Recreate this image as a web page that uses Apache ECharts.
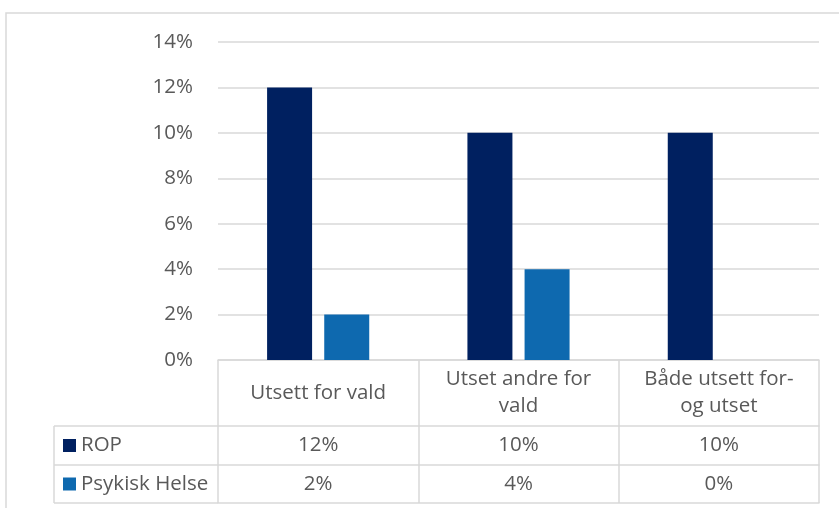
<!DOCTYPE html>
<html>
<head>
<meta charset="utf-8">
<script src="https://cdn.jsdelivr.net/npm/echarts@6/dist/echarts.min.js"></script>
<style>
  html, body { margin: 0; padding: 0; background: #fff; }
  #chart { width: 839px; height: 508px; }
</style>
</head>
<body>
<div id="chart"></div>
<script>
// Data
const categories = ["Utsett for vald", "Utset andre for\nvald", "Både utsett for-\nog utset"];
const seriesNames = ["ROP", "Psykisk Helse"];
const ropValues = [0.12, 0.10, 0.10];
const psykiskValues = [0.02, 0.04, 0.00];
const yTicks = { min: 0, max: 0.14, interval: 0.02 };

const colors = ["#002060", "#0E69AF"];
const lineColor = "#d9d9d9";
const textColor = "#595959";
const font = "Open Sans";
const fontSize = 20.5;

// layout
const gridLeft = 218, gridRight = 20, gridTop = 42, gridBottom = 148;
const rowTops = [360, 426, 465, 503];
const legendLeft = 54;

const pct = v => Math.round(v * 100) + "%";

const chart = echarts.init(document.getElementById("chart"));

// Axis for a table row: draws the line above and the row values
function rowAxis(offset, values, rowHeight) {
  return {
    type: "category",
    data: categories,
    position: "bottom",
    offset,
    axisLine: { show: true, lineStyle: { color: lineColor, width: 1.5 } },
    axisTick: { show: false },
    axisLabel: values ? {
      interval: 0,
      margin: rowHeight / 2,
      verticalAlign: "middle",
      color: textColor,
      fontFamily: font,
      fontSize,
      formatter: (v, i) => pct(values[i])
    } : { show: false }
  };
}

// one legend per table row so each key sits in its own row
function rowLegend(name, rowIndex) {
  const center = (rowTops[rowIndex] + rowTops[rowIndex + 1]) / 2;
  return {
    data: [name],
    left: legendLeft + 9,
    top: center - 12,
    itemWidth: 13,
    itemHeight: 13,
    itemGap: 6,
    icon: "rect",
    selectedMode: false,
    padding: 0,
    textStyle: { color: textColor, fontFamily: font, fontSize, lineHeight: 24 }
  };
}

chart.setOption({
  animation: false,
  grid: { left: gridLeft, right: gridRight, top: gridTop, bottom: gridBottom },
  legend: [rowLegend(seriesNames[0], 1), rowLegend(seriesNames[1], 2)],
  xAxis: [
    {
      type: "category",
      data: categories,
      position: "bottom",
      axisLine: { show: true, lineStyle: { color: lineColor, width: 1.5 } },
      axisTick: { show: true, interval: 0, length: rowTops[3] - rowTops[0], lineStyle: { color: lineColor, width: 1.5 } },
      axisLabel: {
        interval: 0,
        margin: (rowTops[1] - rowTops[0]) / 2,
        verticalAlign: "middle",
        align: "center",
        color: textColor,
        fontFamily: font,
        fontSize,
        lineHeight: 27
      }
    },
    rowAxis(rowTops[1] - rowTops[0], ropValues, rowTops[2] - rowTops[1]),
    rowAxis(rowTops[2] - rowTops[0], psykiskValues, rowTops[3] - rowTops[2]),
    rowAxis(rowTops[3] - rowTops[0], null, 0)
  ],
  yAxis: {
    type: "value",
    min: yTicks.min,
    max: yTicks.max,
    interval: yTicks.interval,
    axisLine: { show: false },
    axisTick: { show: false },
    splitLine: { lineStyle: { color: lineColor, width: 1.5 } },
    axisLabel: {
      margin: 25,
      color: textColor,
      fontFamily: font,
      fontSize,
      formatter: v => pct(v)
    }
  },
  series: [
    { name: seriesNames[0], type: "bar", data: ropValues, barWidth: 45, barGap: "27%", itemStyle: { color: colors[0] } },
    { name: seriesNames[1], type: "bar", data: psykiskValues, barWidth: 45, itemStyle: { color: colors[1] } }
  ],
  graphic: [
    // outer chart border
    { type: "rect", shape: { x: 6, y: 13, width: 900, height: 600 }, style: { fill: "none", stroke: lineColor, lineWidth: 1.5 }, silent: true },
    // legend column of the data table
    ...rowTops.slice(1).map(y => ({
      type: "line", shape: { x1: legendLeft, y1: y, x2: gridLeft, y2: y },
      style: { stroke: lineColor, lineWidth: 1.5 }, silent: true
    })),
    { type: "line", shape: { x1: legendLeft, y1: rowTops[1], x2: legendLeft, y2: rowTops[3] },
      style: { stroke: lineColor, lineWidth: 1.5 }, silent: true }
  ]
});
</script>
</body>
</html>
